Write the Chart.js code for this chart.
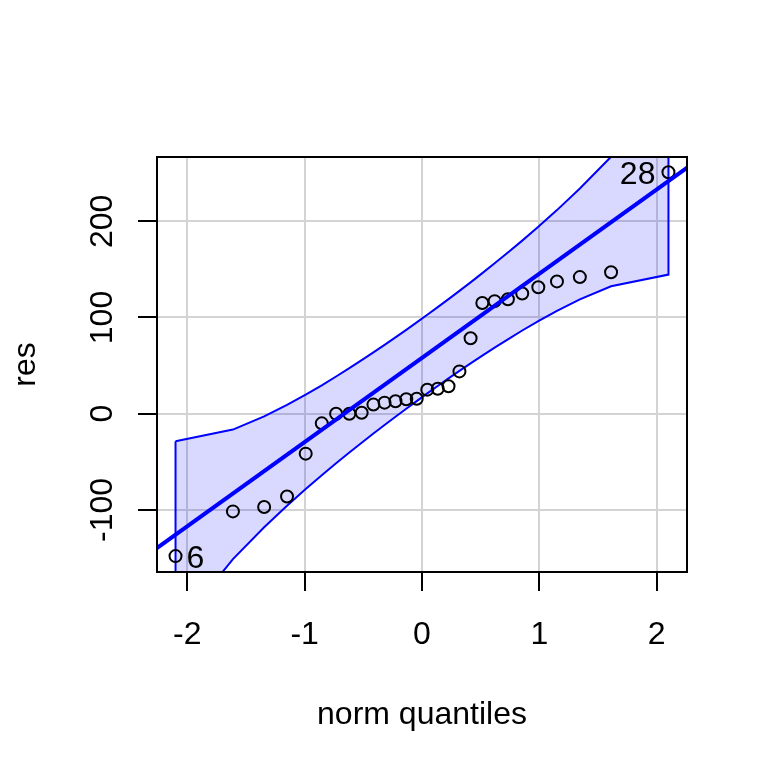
<!DOCTYPE html>
<html>
<head>
<meta charset="utf-8">
<script src="https://cdn.jsdelivr.net/npm/chart.js@4.4.1/dist/chart.umd.min.js"></script>
<style>
  html, body { margin: 0; padding: 0; background: #fff; }
</style>
</head>
<body>
<canvas id="qq" width="768" height="768"></canvas>
<script>
// normal quantiles of the 28 sorted residuals
const quantiles = [-2.100, -1.611, -1.345, -1.150, -0.991, -0.854, -0.732, -0.619, -0.514, -0.414, -0.319, -0.226, -0.134, -0.045,
                    0.045,  0.134,  0.226,  0.319,  0.414,  0.514,  0.619,  0.732,  0.854,  0.991,  1.150,  1.345,  1.611,  2.100];
const res = [-148, -101.5, -97, -86, -41.5, -10, 0, 0, 1, 9.5, 11.5, 13, 15, 15.5,
             25, 26, 28.5, 44, 78.5, 115, 117, 119, 125, 131.5, 137.5, 142, 147, 251];
// pointwise confidence envelope
const envUpper = [-28.6, -16.5, -2.8, 9.2, 19.8, 29.5, 38.7, 47.3, 55.7, 63.7, 71.5, 79.3, 87.2, 94.9,
                  102.9, 110.8, 119.1, 127.7, 136.5, 146.1, 156.3, 167.5, 179.9, 194.2, 211.6, 234.0, 267.1, 341.0];
const envLower = [-225.0, -151.1, -118.0, -95.6, -78.2, -63.9, -51.5, -40.3, -30.1, -20.5, -11.7, -3.1, 5.2, 13.1,
                  21.1, 28.8, 36.7, 44.5, 52.3, 60.3, 68.7, 77.3, 86.5, 96.2, 106.8, 118.8, 132.5, 144.6];
// reference line end points
const refX = [-2.3, 2.3];
const refY = [-143.25, 259.25];
const xTicks = [-2, -1, 0, 1, 2];
const yTicks = [-100, 0, 100, 200];
const labelIdx = [0, 27];
const labelText = ['6', '28'];

const FONT = '32px "Liberation Sans", Arial, sans-serif';

// polygon: upper forward, lower backward, closed
const envShape = [];
quantiles.forEach((q, i) => envShape.push({x: q, y: envUpper[i]}));
for (let i = quantiles.length - 1; i >= 0; i--) envShape.push({x: quantiles[i], y: envLower[i]});
envShape.push({x: quantiles[0], y: envUpper[0]});

const frame = {
  id: 'frame',
  afterDraw(chart) {
    const {ctx, chartArea: a, scales: {x, y}} = chart;
    ctx.save();
    ctx.strokeStyle = '#000';
    ctx.lineWidth = 2;
    ctx.strokeRect(a.left, a.top, a.right - a.left, a.bottom - a.top);
    ctx.beginPath();
    xTicks.forEach(v => {
      const px = Math.round(x.getPixelForValue(v));
      ctx.moveTo(px, a.bottom); ctx.lineTo(px, a.bottom + 19);
    });
    yTicks.forEach(v => {
      const py = Math.round(y.getPixelForValue(v));
      ctx.moveTo(a.left, py); ctx.lineTo(a.left - 19, py);
    });
    ctx.stroke();

    ctx.fillStyle = '#000';
    ctx.font = FONT;
    ctx.textAlign = 'center';
    ctx.textBaseline = 'alphabetic';
    xTicks.forEach(v => ctx.fillText(String(v), x.getPixelForValue(v), 644));
    ctx.fillText('norm quantiles', (a.left + a.right) / 2, 724);
    yTicks.forEach(v => {
      ctx.save();
      ctx.translate(112, y.getPixelForValue(v));
      ctx.rotate(-Math.PI / 2);
      ctx.fillText(String(v), 0, 0);
      ctx.restore();
    });
    ctx.save();
    ctx.translate(35, (a.top + a.bottom) / 2);
    ctx.rotate(-Math.PI / 2);
    ctx.fillText('res', 0, 0);
    ctx.restore();

    // labels of the two extreme points
    labelIdx.forEach((i, k) => {
      const px = x.getPixelForValue(quantiles[i]);
      const py = y.getPixelForValue(res[i]);
      if (quantiles[i] < 0) { ctx.textAlign = 'left'; ctx.fillText(labelText[k], px + 11, py + 11.5); }
      else { ctx.textAlign = 'right'; ctx.fillText(labelText[k], px - 13, py + 11.5); }
    });
    ctx.restore();
  }
};

new Chart(document.getElementById('qq'), {
  type: 'scatter',
  data: {
    datasets: [
      {
        label: 'reference',
        data: refX.map((v, i) => ({x: v, y: refY[i]})),
        showLine: true,
        borderColor: '#0000ff',
        borderWidth: 4,
        pointRadius: 0,
        fill: false,
        order: 0
      },
      {
        label: 'res',
        data: quantiles.map((q, i) => ({x: q, y: res[i]})),
        pointStyle: 'circle',
        pointRadius: 6,
        borderWidth: 2,
        pointBorderWidth: 2,
        borderColor: '#000',
        pointBorderColor: '#000',
        backgroundColor: 'rgba(0,0,0,0)',
        pointBackgroundColor: 'rgba(0,0,0,0)',
        order: 1
      },
      {
        label: 'envelope',
        data: envShape,
        showLine: true,
        borderColor: '#0000ff',
        borderWidth: 2,
        backgroundColor: 'rgba(0,0,255,0.15)',
        fill: 'shape',
        pointRadius: 0,
        tension: 0,
        order: 2
      }
    ]
  },
  options: {
    responsive: false,
    animation: false,
    devicePixelRatio: 1,
    layout: {padding: {left: 157, top: 157, right: 81, bottom: 196}},
    plugins: {legend: {display: false}, tooltip: {enabled: false}},
    scales: {
      x: {
        type: 'linear',
        min: -2.258,
        max: 2.258,
        afterBuildTicks: s => { s.ticks = xTicks.map(v => ({value: v})); },
        afterFit: s => { s.height = 0; },
        ticks: {display: false},
        grid: {color: '#d3d3d3', lineWidth: 2, drawTicks: false},
        border: {display: false}
      },
      y: {
        type: 'linear',
        min: -164.5,
        max: 266.8,
        afterBuildTicks: s => { s.ticks = yTicks.map(v => ({value: v})); },
        afterFit: s => { s.width = 0; },
        ticks: {display: false},
        grid: {color: '#d3d3d3', lineWidth: 2, drawTicks: false},
        border: {display: false}
      }
    }
  },
  plugins: [frame]
});
</script>
</body>
</html>
